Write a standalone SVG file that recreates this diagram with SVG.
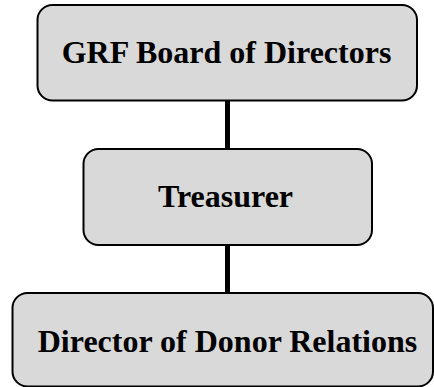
<svg xmlns="http://www.w3.org/2000/svg" width="434" height="387" viewBox="0 0 434 387">
<style>
.box{fill:#d9d9d9;stroke:#000;stroke-width:2}
.lbl{font-family:"Liberation Serif",serif;font-weight:700;font-size:32px;fill:#000;text-anchor:middle}
.conn{stroke:#000;stroke-width:5;fill:none}
</style>
<rect width="434" height="387" fill="#fff"/>
<g id="connectors">
<line class="conn" x1="227.5" y1="101" x2="227.5" y2="149"/>
<line class="conn" x1="227.5" y1="245" x2="227.5" y2="293"/>
</g>
<g id="board">
<rect class="box" x="37.5" y="5" width="379.5" height="95.5" rx="15" ry="15"/>
<text class="lbl" x="226.5" y="63">GRF Board of Directors</text>
</g>
<g id="treasurer">
<rect class="box" x="83.5" y="149" width="288.5" height="96" rx="15" ry="15"/>
<text class="lbl" x="225.5" y="207">Treasurer</text>
</g>
<g id="donor">
<rect class="box" x="12.5" y="293" width="420.5" height="93.5" rx="15" ry="15"/>
<text class="lbl" x="227.5" y="351.5">Director of Donor Relations</text>
</g>
</svg>
